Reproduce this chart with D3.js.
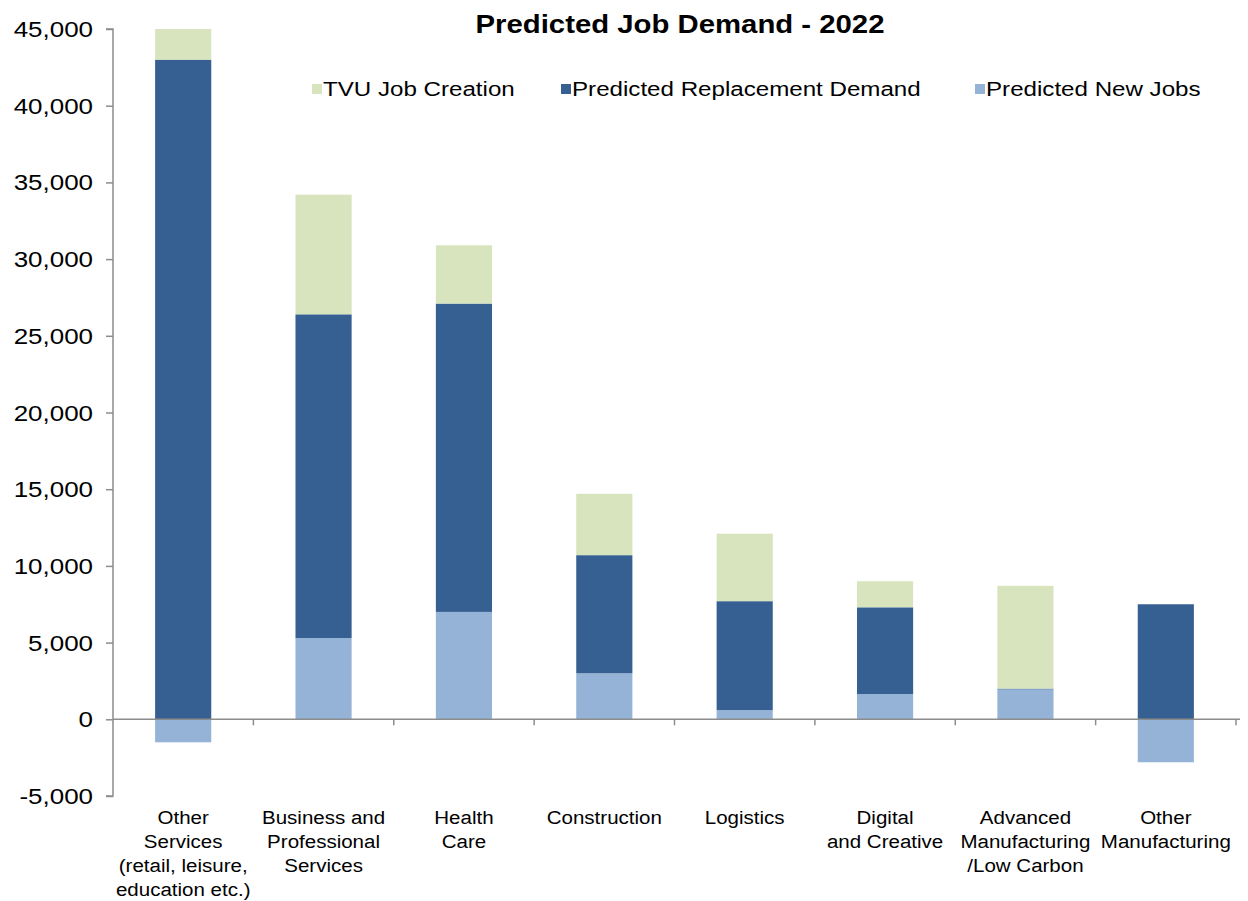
<!DOCTYPE html>
<html>
<head>
<meta charset="utf-8">
<script src="https://cdn.jsdelivr.net/npm/d3@7"></script>
<style>
  html, body { margin: 0; padding: 0; background: #fff; }
  svg { display: block; }
  text { font-family: "Liberation Sans", Arial, sans-serif; fill: #000; }
</style>
</head>
<body>
<svg id="chart" width="1248" height="901"></svg>
<script>
// Sector labels, one array entry per text line
const categories = [
  ["Other", "Services", "(retail, leisure,", "education etc.)"],
  ["Business and", "Professional", "Services"],
  ["Health", "Care"],
  ["Construction"],
  ["Logistics"],
  ["Digital", "and Creative"],
  ["Advanced", "Manufacturing", "/Low Carbon"],
  ["Other", "Manufacturing"]
];

// Job counts per sector
const newJobs         = [-1500, 5300, 7000, 3000, 600, 1650, 1950, -2800];
const replacementJobs = [43000, 21100, 20100, 7700, 7100, 5650, 50, 7500];
const tvuJobs         = [2000, 7800, 3800, 4000, 4400, 1700, 6700, 0];

const yTicks = [-5000, 0, 5000, 10000, 15000, 20000, 25000, 30000, 35000, 40000, 45000];

const seriesNames = ["Predicted New Jobs", "Predicted Replacement Demand", "TVU Job Creation"];
const seriesColors = ["#95b3d7", "#366092", "#d7e4bd"];
const legendOrder = [2, 1, 0];

const title = "Predicted Job Demand - 2022";

// ---- layout ----
const SX = 1.15; // horizontal text stretch
const svg = d3.select("#chart");
const plotLeft = 113, plotRight = 1236, plotTop = 29, plotBottom = 796;

const rows = categories.map((c, i) => ({
  key: i,
  "Predicted New Jobs": newJobs[i],
  "Predicted Replacement Demand": replacementJobs[i],
  "TVU Job Creation": tvuJobs[i]
}));

const x = d3.scaleBand().domain(d3.range(categories.length)).range([plotLeft, plotRight]).paddingInner(0.6).paddingOuter(0.3);
const bandStep = (plotRight - plotLeft) / categories.length;
const y = d3.scaleLinear().domain([-5000, 45000]).range([plotBottom, plotTop]);

const stacked = d3.stack().keys(seriesNames).offset(d3.stackOffsetDiverging)(rows);

// bars
svg.append("g").selectAll("g").data(stacked).join("g")
  .attr("fill", (d, i) => seriesColors[i])
  .selectAll("rect").data(d => d).join("rect")
  .attr("x", d => x(d.data.key))
  .attr("width", x.bandwidth())
  .attr("y", d => y(Math.max(d[0], d[1])))
  .attr("height", d => Math.abs(y(d[0]) - y(d[1])));

const axisColor = "#8c8c8c";
const fmt = d => d3.format(",")(d).replace("\u2212", "-");

// y axis
const yAxis = svg.append("g").attr("transform", `translate(${plotLeft},0)`)
  .call(d3.axisLeft(y).tickValues(yTicks).tickSize(7).tickPadding(0).tickFormat(() => ""));
yAxis.select(".domain").attr("stroke", axisColor).attr("stroke-width", 1.5).attr("d", `M-7,${y(-5000)}H0V${y(45000)}H-7`);
yAxis.selectAll(".tick line").attr("stroke", axisColor).attr("stroke-width", 1.5);
yAxis.selectAll(".tick").append("text")
  .attr("transform", `translate(-20,7.5) scale(1.18,1)`)
  .attr("text-anchor", "end")
  .attr("fill", "#000")
  .style("font-size", "22px")
  .text(fmt);

// x axis at zero with boundary ticks
const y0 = y(0);
svg.append("line").attr("x1", plotLeft).attr("x2", plotRight + 4).attr("y1", y0).attr("y2", y0)
  .attr("stroke", axisColor).attr("stroke-width", 1.5);
svg.append("g").selectAll("line").data(d3.range(1, categories.length + 1)).join("line")
  .attr("x1", i => plotLeft + i * bandStep).attr("x2", i => plotLeft + i * bandStep)
  .attr("y1", y0).attr("y2", y0 + 6)
  .attr("stroke", axisColor).attr("stroke-width", 1.5);

// category labels
svg.append("g").selectAll("g").data(categories).join("g")
  .attr("transform", (d, i) => `translate(${x(i) + x.bandwidth() / 2},0)`)
  .each(function(lines) {
    d3.select(this).selectAll("text").data(lines).join("text")
      .attr("transform", (l, j) => `translate(0,${824 + j * 24}) scale(1.08,1)`)
      .attr("text-anchor", "middle")
      .style("font-size", "19px")
      .text(l => l);
  });

// title
svg.append("text")
  .attr("transform", `translate(680,33) scale(${SX},1)`)
  .attr("text-anchor", "middle")
  .style("font-size", "25.5px").style("font-weight", "bold")
  .text(title);

// legend
const legendX = [312, 561, 975];
const legend = svg.append("g").selectAll("g").data(legendOrder).join("g")
  .attr("transform", (d, i) => `translate(${legendX[i]},84)`);
legend.append("rect").attr("width", 10).attr("height", 10).attr("fill", d => seriesColors[d]);
legend.append("text")
  .attr("transform", `translate(11,12) scale(${SX},1)`)
  .style("font-size", "21px")
  .text(d => seriesNames[d]);
</script>
</body>
</html>
